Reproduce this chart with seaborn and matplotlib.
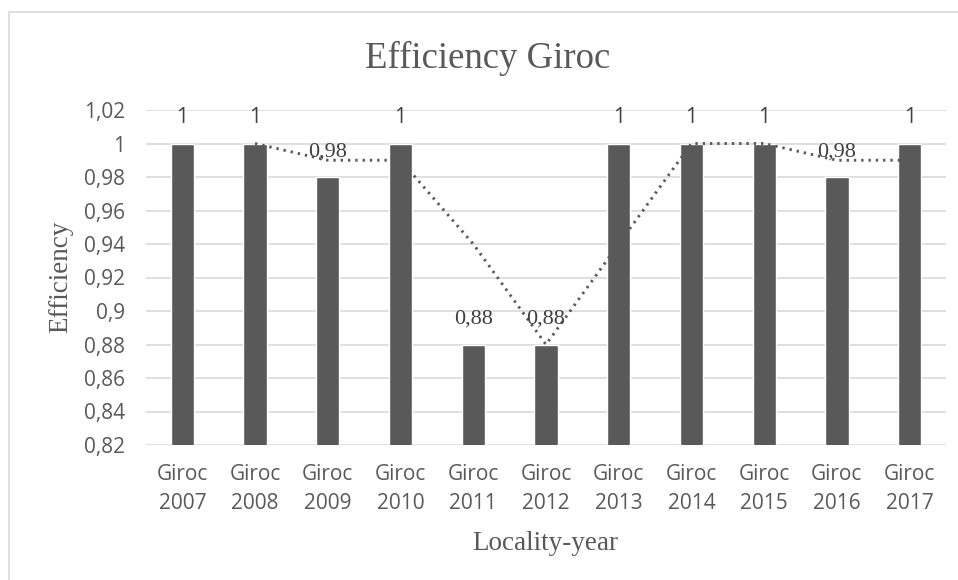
import matplotlib
matplotlib.use("Agg")
import matplotlib.pyplot as plt
import seaborn as sns
import pandas as pd
from matplotlib.patches import Rectangle
from matplotlib.ticker import FuncFormatter

years = [2007, 2008, 2009, 2010, 2011, 2012, 2013, 2014, 2015, 2016, 2017]
efficiency = [1, 1, 0.98, 1, 0.88, 0.88, 1, 1, 1, 0.98, 1]
# 2-period moving average trendline (Excel style), starts at 2nd category
trend_pos = [1, 2, 3, 4, 5, 6, 7, 8, 9, 10]
trend_vals = [1, 0.99, 0.99, 0.94, 0.88, 0.94, 1, 1, 0.99, 0.99]
labels = [f"Giroc\n{y}" for y in years]

bar_color = "#595959"
grid_color = "#d9d9d9"
text_color = "#595959"
serif = ["Liberation Serif", "DejaVu Serif"]
sans = ["Open Sans", "DejaVu Sans"]

sns.set_style("white")
plt.rcParams['font.family'] = sans

df = pd.DataFrame({"label": labels, "eff": efficiency})

W, H = 958, 580
fig = plt.figure(figsize=(W / 100, H / 100), dpi=100)
# plot area: x 146..946 px, y 110..445 px
ax = fig.add_axes([146 / W, 1 - 445 / H, 800 / W, 335 / H])

sns.barplot(data=df, x="label", y="eff", color=bar_color, width=0.32,
            saturation=1, ax=ax, zorder=2)
sns.lineplot(x=trend_pos, y=trend_vals, ax=ax, color=bar_color,
             linestyle=(0, (0.8, 1.7)), linewidth=2.1, zorder=3)

ax.set_ylim(0.82, 1.02)
ax.set_xlim(-0.5, len(years) - 0.5)
ax.set_yticks([0.82 + 0.02 * i for i in range(11)])

def fmt(v, pos):
    s = f"{v:.2f}".rstrip("0").rstrip(".")
    return s.replace(".", ",")

ax.yaxis.set_major_formatter(FuncFormatter(fmt))
ax.grid(axis="y", color=grid_color, linewidth=1.2, zorder=0)
ax.set_axisbelow(True)
for s in ax.spines.values():
    s.set_visible(False)
ax.tick_params(axis="both", length=0, colors=text_color, labelsize=15)
ax.tick_params(axis="y", pad=15)
ax.tick_params(axis="x", pad=14)
for t in ax.get_xticklabels():
    t.set_linespacing(1.5)

# data labels
for i, v in enumerate(efficiency):
    if v == 1:
        ax.text(i, v + 0.0155, "1", ha="center", va="center", fontsize=15,
                color="#404040", family=sans)
    else:
        ax.text(i, v + 0.015, fmt(v, None), ha="center", va="center",
                fontsize=16, color="#404040", family=serif)

ax.set_xlabel("")
ax.set_ylabel("")
fig.text(545 / W, 1 - 543 / H, "Locality-year", ha="center", va="center",
         fontsize=19.5, color=text_color, family=serif)
fig.text(61 / W, 1 - 277 / H, "Efficiency", ha="center", va="center",
         rotation=90, fontsize=19.5, color=text_color, family=serif)
fig.text(488 / W, 1 - 58 / H, "Efficiency Giroc", ha="center", va="center",
         fontsize=26.5, color=text_color, family=serif)

# chart border (only top/left edges fall inside the image)
fig.add_artist(Rectangle((9 / W, -0.05), 1.0, 1 - 12 / H + 0.05,
                         transform=fig.transFigure, fill=False,
                         edgecolor="#d9d9d9", linewidth=1.2))

fig.savefig("out.png", dpi=100)
